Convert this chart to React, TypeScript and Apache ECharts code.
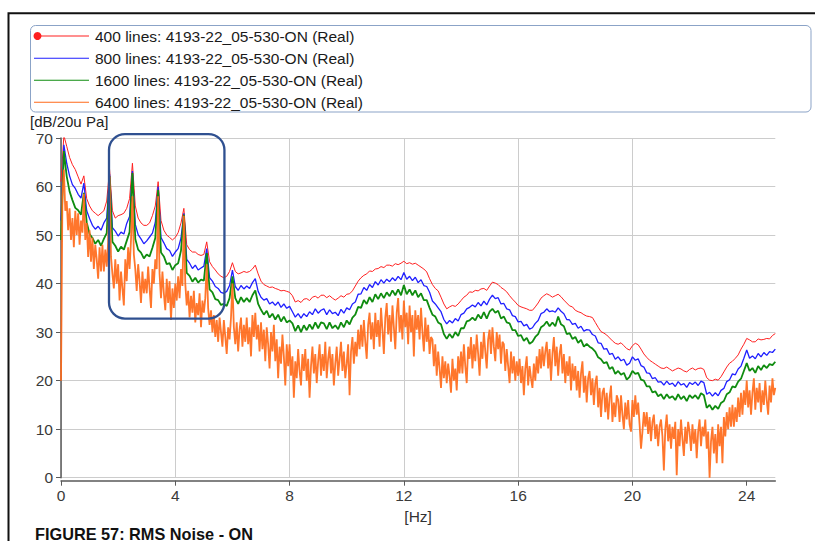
import React, { useEffect, useRef } from "react";
import * as echarts from "echarts";

// ---------- data ----------
const STEP_COARSE = 0.1; // Hz between stored points (400 / 800 / 1600 lines)
const STEP_FINE = 0.05; // Hz between stored points (6400 lines)
const X_TICKS = [0, 4, 8, 12, 16, 20, 24];
const X_MAX = 25;
const Y_MIN = 0;
const Y_MAX = 70;
const Y_STEP = 10;
const X_STEP = 4;

const SERIES_NAMES = [
  "400 lines: 4193-22_05-530-ON (Real)",
  "800 lines: 4193-22_05-530-ON (Real)",
  "1600 lines: 4193-22_05-530-ON (Real)",
  "6400 lines: 4193-22_05-530-ON (Real)",
];
const Y_NAME = "[dB/20u Pa]";
const X_NAME = "[Hz]";
const CAPTION = "FIGURE 57: RMS Noise - ON";

// highlighted region (Hz, dB)
const BOX_HZ = [1.68, 5.72];
const BOX_DB = [70.8, 32.8];

const RED_400 = [
  61, 70.5, 68.3, 66, 64.5, 63.5, 62, 60.5, 62.2, 57.5,
  56, 55, 54.5, 54, 54.5, 55, 57, 63.5, 55, 53.5,
  54, 54.2, 54.5, 55.5, 57.5, 64.8, 56, 53.5, 52.5, 52,
  52, 52.5, 54, 56, 61, 53, 51, 50, 49.5, 49,
  49.5, 50.5, 52.5, 55.5, 48, 47, 46.5, 46.5, 46, 45.8,
  46, 48.6, 44.5, 43.5, 42.8, 42, 41.5, 41.2, 41.5, 42.5,
  44.3, 42.5, 42, 42.2, 42.5, 42.3, 42.5, 43, 43.8, 42,
  40.5, 39.8, 39.5, 39.2, 39.3, 39, 38.8, 38.5, 38.6, 38.4,
  38.2, 37.5, 36.2, 36.5, 36.1, 36.8, 36.9, 36.5, 37.2, 37.4,
  37, 37.6, 37.6, 37.1, 37.5, 37, 36.6, 37, 37.5, 37.2,
  37.8, 37.9, 38.5, 39.5, 40.5, 41.2, 41.7, 42, 42.6, 42.5,
  43, 43.1, 43.5, 43.3, 43.8, 43.8, 43.6, 44.1, 43.9, 44.2,
  44.6, 44.1, 44.3, 44, 44.2, 43.8, 43.4, 43, 42.4, 41,
  39.8, 39, 38.5, 37.2, 35.8, 34.8, 35.2, 35.5, 35.3, 35.8,
  36.5, 37.2, 37.6, 38.3, 38.2, 38.6, 38.5, 38.9, 39, 38.6,
  39.5, 40.3, 40.1, 39.8, 39.2, 38.8, 38.3, 37.5, 36.8, 36.2,
  35.5, 35.2, 35, 34.8, 34.5, 34.5, 35.2, 36, 37, 37.5,
  37.9, 37.6, 37.2, 37.5, 37.8, 37.3, 36.6, 36, 35.4, 35.2,
  34.5, 34.2, 34, 33.6, 33.3, 33.2, 33, 32, 31, 30.1,
  29.8, 29.4, 28.8, 28.2, 27.7, 27.5, 27.8, 27.2, 26.6, 26.3,
  27.2, 27.7, 27.4, 26.5, 25.5, 24.8, 24.2, 23.8, 23.4, 23,
  22.6, 22.5, 22.8, 22.4, 22, 22.3, 22.6, 22.4, 22, 21.8,
  22.3, 22.6, 22.2, 22.5, 22.6, 22.3, 20.6, 20.1, 20, 20.3,
  20.1, 20.8, 21.8, 22.8, 23.6, 24, 24.6, 25.3, 26.5, 27.5,
  28.7, 28.4, 28, 28, 28.6, 28.4, 28.5, 28.7, 28.6, 29.3,
  29.7,
];

const BLUE_800 = [
  53, 68.6, 64.8, 62.2, 60.4, 59.6, 58.4, 57.6, 60.7, 55,
  53.4, 52, 51.2, 51.8, 51, 52.5, 53.5, 62.5, 51.5, 50.8,
  49.8, 50.6, 50.2, 52.4, 53.8, 63.2, 52.2, 50.1, 49.2, 48.2,
  48.8, 49.6, 50.4, 52.6, 60, 49.5, 48.4, 47.2, 46.8, 45.6,
  46.5, 47.2, 49.4, 54.5, 45, 44.2, 43.1, 43.8, 42.8, 43.2,
  43.6, 47.2, 41.2, 40.5, 39.4, 39, 38.2, 38, 38.4, 39.6,
  42.8, 39.4, 38.6, 39.6, 38.9, 39.5, 39, 40.2, 41, 38.4,
  37.2, 36.6, 36.9, 35.8, 36.2, 35.5, 36.2, 35.1, 35.8, 34.9,
  35.3, 34.2, 33.1, 33.8, 32.9, 33.8, 33.2, 34.2, 33.6, 34.8,
  33.9, 34.5, 34.8, 33.6, 34.6, 33.8, 34.1, 33.4, 34.7, 33.9,
  35, 34.6, 35.8, 36.2, 37.8, 37.9, 39.2, 38.6, 39.8, 39.2,
  40.4, 39.7, 40.8, 40.1, 40.9, 40.4, 41.2, 40.6, 41.5, 40.8,
  42.3, 40.9, 41.5, 40.6, 41.3, 40.2, 40.8, 39.6, 39.4, 38.2,
  36.4, 35.8, 35, 34.2, 32.6, 31.7, 32.4, 31.9, 32.8, 32.3,
  33.6, 33.9, 34.8, 35.1, 35.6, 35.2, 36.1, 35.4, 36.4, 35.6,
  36.8, 37.6, 36.9, 37.1, 35.8, 35.9, 34.8, 34.6, 33.4, 33.2,
  32.1, 32.2, 31.3, 31.6, 30.6, 30.9, 31.8, 32.4, 33.8, 34.1,
  34.8, 34.2, 34.4, 34.1, 35, 34.3, 33.8, 32.6, 32.5, 31.6,
  31.8, 30.8, 31.2, 30.2, 30.5, 30.4, 29.5, 29.2, 27.8, 27.7,
  26.5, 26.6, 25.4, 25.6, 24.4, 24.9, 24.1, 24.4, 23.2, 23.6,
  24.9, 24.2, 24.5, 23.1, 22.8, 21.6, 21.5, 20.4, 20.6, 19.7,
  19.8, 19.1, 19.9, 19.2, 19.5, 18.8, 19.8, 19.1, 19.4, 18.6,
  19.6, 19.2, 19.7, 19, 19.9, 19.6, 17.2, 17.6, 16.8, 17.5,
  16.9, 18, 18.4, 19.8, 20.2, 21.4, 21.2, 22.4, 23, 24.6,
  26.3, 24.6, 25.1, 24.5, 25.6, 24.9, 25.8, 25.2, 26, 25.8,
  26.5,
];

const GREEN_1600 = [
  49, 67.3, 62.1, 59, 57.2, 55.6, 55.1, 54.2, 58.7, 52.6,
  50.2, 49.4, 48.2, 49, 47.8, 49.2, 50.4, 62.1, 48.6, 47.8,
  46.6, 47.6, 47, 48.8, 50.6, 62.8, 49.2, 47, 46.4, 45.2,
  46, 45.6, 47.4, 49.4, 59.3, 46.4, 45.6, 44, 44.2, 42.8,
  43.8, 44.2, 46.8, 54.2, 42.2, 41.6, 40.4, 41.2, 40.2, 40.8,
  40.6, 46.3, 38.8, 38.2, 36.8, 36.6, 35.6, 35.8, 35.4, 37,
  41.5, 37, 35.8, 37.2, 36.2, 37, 36.2, 37.6, 38.6, 35.8,
  34.6, 33.6, 34.4, 33, 33.8, 32.6, 33.6, 32.2, 33.2, 32,
  32.4, 31.8, 30.2, 31.4, 30, 31.4, 30.4, 31.6, 30.6, 32,
  30.8, 32, 31.8, 30.6, 32, 30.8, 31.4, 30.6, 32, 31,
  32.4, 31.6, 33, 33.6, 35.2, 35, 36.6, 35.8, 37.2, 36.2,
  37.8, 36.8, 38, 37, 38.2, 37.4, 38.6, 37.6, 38.8, 37.6,
  39.7, 37.8, 38.8, 37.6, 38.6, 37.2, 38, 36.6, 36.6, 35,
  33.6, 33.2, 32, 31.6, 29.6, 28.6, 29.6, 28.8, 30, 29.2,
  30.8, 30.8, 32.2, 32.4, 33, 32.4, 33.6, 32.8, 34.1, 32.8,
  34.2, 34.8, 34, 34.4, 32.8, 33.2, 32, 31.8, 30.4, 30.4,
  29.2, 29.4, 28.2, 28.8, 27.6, 28, 29, 29.6, 31, 31.4,
  32.2, 31.2, 32, 31.2, 33.2, 31.6, 31.2, 29.6, 29.8, 28.6,
  29, 27.8, 28.4, 27, 27.6, 27, 26.6, 26, 24.8, 24.4,
  23.6, 23.8, 22.4, 22.8, 21.4, 22, 21.2, 21.6, 20.2, 20.8,
  22, 21.4, 21.6, 20.2, 20, 18.8, 18.8, 17.6, 17.8, 16.8,
  17.2, 16.2, 17.2, 16.4, 16.8, 16, 17.2, 16.2, 16.8, 15.8,
  17, 16.4, 17, 16.2, 17.4, 17, 14.4, 15, 14, 14.8,
  14.2, 15.4, 15.8, 17.2, 17.6, 18.8, 18.6, 19.8, 20.4, 22,
  23.6, 22, 22.6, 21.6, 23, 22.2, 23.2, 22.6, 23.4, 23.2,
  23.9,
];

const ORANGE_6400 = [
  20, 58, 63.5, 55, 57, 51, 55.5, 49, 53.5, 47.5,
  55, 50, 54.5, 48, 53, 50.5, 58.5, 49, 52.5, 45.5,
  51, 44.5, 49.5, 43, 48, 45, 41, 47.5, 42.5, 48,
  42.5, 47, 43.5, 48.5, 62, 45.5, 42, 39, 45, 40,
  44, 36.5, 42.5, 39, 35.5, 45, 40.5, 47.5, 43, 49,
  58, 46, 43, 38.5, 44, 40.5, 36, 42.5, 38, 41,
  38, 43.5, 39, 35, 43, 40, 45, 43, 58, 42,
  37, 42.5, 38, 34.5, 41, 36, 40.5, 32.5, 39, 35,
  40, 36.5, 41.5, 37, 43, 39.5, 54, 40, 35.5, 38.5,
  33, 37.5, 34, 38.5, 32, 36, 33.5, 38, 31, 36.5,
  34, 37, 44, 35, 31.5, 34.5, 30, 33.5, 29, 32.5,
  28, 33, 30, 27, 32.5, 29, 25.5, 31, 28.5, 33,
  40, 31, 27.5, 32, 26, 30.5, 33, 27, 31.5, 28,
  33, 27.5, 31, 25, 33.5, 29, 34, 28.5, 31.5, 26,
  32, 26.5, 30.5, 24, 31, 27.5, 22.5, 30, 26, 31.5,
  24, 28.5, 20.5, 27, 23.5, 29.5, 25, 19, 27.5, 23,
  27.5, 21, 25, 16.5, 24, 20.5, 26.5, 22, 19, 25.5,
  22, 26.5, 20, 24.5, 16.5, 23, 27, 21.5, 25.5, 19.5,
  24, 27.5, 21, 25.5, 22, 28, 20.5, 24.5, 27, 21.5,
  25.5, 19, 23.5, 27, 21, 24.5, 28, 22, 26, 20.5,
  23.5, 27.5, 17, 26, 29, 23.5, 28, 25, 30.5, 26.5,
  31.5, 27, 32.5, 28, 24.5, 31.5, 34, 28.5, 32, 26.5,
  34, 29, 32.5, 27, 35, 30.5, 25.5, 33, 36, 29.5,
  33.5, 28, 35.5, 31, 26.5, 34, 37, 30, 33.5, 28.5,
  36.5, 31, 34, 27.5, 35.5, 30, 33.5, 25, 34.5, 30.5,
  33.5, 28.5, 35, 30, 26, 33, 28, 31.5, 25.5, 29,
  28.5, 23, 27.5, 21, 26, 22.5, 18.5, 25, 20.5, 24,
  19.5, 23.5, 21, 17.5, 24.5, 20, 22.5, 18, 25, 21.5,
  26, 21.5, 27.5, 23, 19.5, 27, 24.5, 29, 22.5, 27.5,
  24, 29.5, 25.5, 21, 28, 24.5, 30, 26, 22.5, 28.5,
  30.5, 25.5, 31, 27, 24, 30, 26.5, 29.5, 23.5, 28,
  27.5, 22, 26.5, 23, 19.5, 26, 21.5, 25, 20, 24,
  21, 24.5, 19.5, 23, 17, 22.5, 25, 19, 23, 20.5,
  18.5, 23.5, 20, 25, 21.5, 26.5, 22.5, 27, 23, 26,
  28, 22.5, 26.5, 20, 25.5, 29, 23, 27, 21, 25.5,
  27.5, 21.5, 25.5, 19.5, 24, 21, 25, 18, 23.5, 20,
  23, 18, 22, 16.5, 21.5, 24, 17.5, 21, 15.5, 20.5,
  22, 17, 20.5, 15, 19.5, 21, 14.5, 18.5, 12.5, 17.5,
  18.5, 13.5, 17.5, 12, 16.5, 19, 11.5, 15.5, 12.5, 17,
  16, 11.5, 17, 13, 10, 15.5, 12, 16, 11, 9.5,
  16, 12.5, 17, 13, 15.5, 11, 6, 9.5, 13.5, 10.5,
  13.5, 9, 12.5, 7.5, 11.5, 13, 8, 11, 6.5, 10.5,
  12, 8.5, 1.5, 10, 13, 7.5, 11, 6, 10.5, 8,
  11.5, 0.5, 10, 6.5, 12, 8, 4.5, 10.5, 7, 11.5,
  9.5, 5.5, 11, 7, 10, 4, 9.5, 12, 6.5, 10.5,
  8.5, 12, 6, 9.5, 0, 7.5, 10.5, 5, 9, 3,
  11, 6.5, 10.5, 3, 12.5, 8.5, 13.5, 10, 14.5, 10.5,
  15, 10.5, 14.5, 11.5, 16.5, 12.5, 17.5, 13, 18, 15,
  20, 14.5, 18, 13, 17.5, 20.5, 14, 18.5, 15.5, 19.5,
  13.5, 18, 15, 20, 16, 13, 19, 15.5, 20.5, 17,
  18.5,
];

const SERIES_VALUES = [RED_400, BLUE_800, GREEN_1600, ORANGE_6400];
const SERIES_STEPS = [STEP_COARSE, STEP_COARSE, STEP_COARSE, STEP_FINE];

// ---------- styling ----------
const COLORS = ["#ff2020", "#1f1fff", "#0f8c0f", "#ff6a1a"];
const WIDTHS = [1, 1.3, 1.8, 1.8];
const FONT = "Liberation Sans";
const FONT_SIZE = 15.5;

function toPairs(values: number[], step: number): [number, number][] {
  return values.map((v, i) => [Math.round(i * step * 1000) / 1000, v]);
}

export default function App() {
  const ref = useRef<HTMLDivElement>(null);

  useEffect(() => {
    document.body.style.margin = "0";
    const el = ref.current;
    if (!el) return;
    const chart = echarts.init(el, undefined, { renderer: "svg", width: 815, height: 541 });

    const option: any = {
      animation: false,
      backgroundColor: "#ffffff",
      grid: { left: 61, right: 39.7, top: 138, bottom: 63.3, containLabel: false },
      xAxis: {
        type: "value",
        min: 0,
        max: X_MAX,
        interval: X_STEP,
        offset: 3,
        name: X_NAME,
        nameLocation: "middle",
        nameGap: 27,
        nameTextStyle: { color: "#333333", fontFamily: FONT, fontSize: FONT_SIZE },
        axisLine: { show: true, onZero: false, lineStyle: { color: "#5a5a5a", width: 1.5 } },
        axisTick: { show: true, length: 5, customValues: X_TICKS, lineStyle: { color: "#5a5a5a" } },
        axisLabel: {
          color: "#3a3a3a",
          fontFamily: FONT,
          fontSize: FONT_SIZE,
          margin: 7,
          formatter: (v: number) => (X_TICKS.indexOf(v) >= 0 ? String(v) : ""),
        },
        splitLine: { show: true, showMaxLine: false, lineStyle: { color: "#cccccc", width: 1 } },
      },
      yAxis: {
        type: "value",
        min: Y_MIN,
        max: Y_MAX,
        interval: Y_STEP,
        axisLine: { show: true, lineStyle: { color: "#5a5a5a", width: 1.5 } },
        axisTick: { show: true, length: 5, lineStyle: { color: "#5a5a5a" } },
        axisLabel: { color: "#3a3a3a", fontFamily: FONT, fontSize: FONT_SIZE, margin: 8 },
        splitLine: { show: true, lineStyle: { color: "#cccccc", width: 1 } },
      },
      series: SERIES_NAMES.map((name, i) => ({
        name,
        type: "line",
        data: toPairs(SERIES_VALUES[i], SERIES_STEPS[i]),
        showSymbol: false,
        symbol: "none",
        lineStyle: { color: COLORS[i], width: WIDTHS[i], opacity: i === 3 ? 0.92 : 1 },
        itemStyle: { color: COLORS[i] },
        emphasis: { disabled: true },
        z: 2 + i,
      })),
    };
    chart.setOption(option);

    const p1 = chart.convertToPixel({ gridIndex: 0 }, [BOX_HZ[0], BOX_DB[0]]) as number[];
    const p2 = chart.convertToPixel({ gridIndex: 0 }, [BOX_HZ[1], BOX_DB[1]]) as number[];

    const rowY = [36, 58.2, 80.2, 102.2];
    const graphics: any[] = [
      {
        type: "rect",
        id: "frame",
        silent: true,
        shape: { x: 8.5, y: 13.3, width: 1000, height: 1000 },
        style: { fill: "none", stroke: "#111111", lineWidth: 2 },
        z: 100,
      },
      {
        type: "rect",
        id: "legendBox",
        silent: true,
        shape: { x: 30.5, y: 25.5, width: 780.5, height: 86.5, r: 5 },
        style: { fill: "none", stroke: "#8ba3c7", lineWidth: 1 },
        z: 100,
      },
    ];
    SERIES_NAMES.forEach((name, i) => {
      graphics.push({
        type: "line",
        id: "legLine" + i,
        silent: true,
        shape: { x1: 34, y1: rowY[i], x2: 89, y2: rowY[i] },
        style: { stroke: COLORS[i], lineWidth: 1.1 },
        z: 100,
      });
      graphics.push({
        type: "text",
        id: "legText" + i,
        silent: true,
        x: 95,
        y: rowY[i],
        style: {
          text: name,
          fill: "#1a1a1a",
          font: `${FONT_SIZE}px "${FONT}"`,
          textVerticalAlign: "middle",
          verticalAlign: "middle",
        },
        z: 100,
      });
    });
    graphics.push({
      type: "circle",
      id: "legDot",
      silent: true,
      shape: { cx: 37.5, cy: rowY[0], r: 4 },
      style: { fill: COLORS[0], stroke: "none" },
      z: 101,
    });
    graphics.push({
      type: "text",
      id: "yName",
      silent: true,
      x: 30,
      y: 121,
      style: {
        text: Y_NAME,
        fill: "#222222",
        font: `15px "${FONT}"`,
        verticalAlign: "middle",
        textVerticalAlign: "middle",
      },
      z: 100,
    });
    graphics.push({
      type: "text",
      id: "caption",
      silent: true,
      x: 35,
      y: 533.5,
      style: {
        text: CAPTION,
        fill: "#111111",
        font: `bold 16.3px "Liberation Sans"`,
        verticalAlign: "middle",
        textVerticalAlign: "middle",
      },
      z: 100,
    });
    graphics.push({
      type: "rect",
      id: "highlight",
      silent: true,
      shape: {
        x: p1[0],
        y: p1[1],
        width: p2[0] - p1[0],
        height: p2[1] - p1[1],
        r: 16,
      },
      style: { fill: "none", stroke: "#2f5090", lineWidth: 2.3 },
      z: 100,
    });

    chart.setOption({ graphic: graphics });

    return () => {
      chart.dispose();
    };
  }, []);

  return (
    <div
      ref={ref}
      style={{ position: "absolute", left: 0, top: 0, width: 815, height: 541 }}
    />
  );
}
